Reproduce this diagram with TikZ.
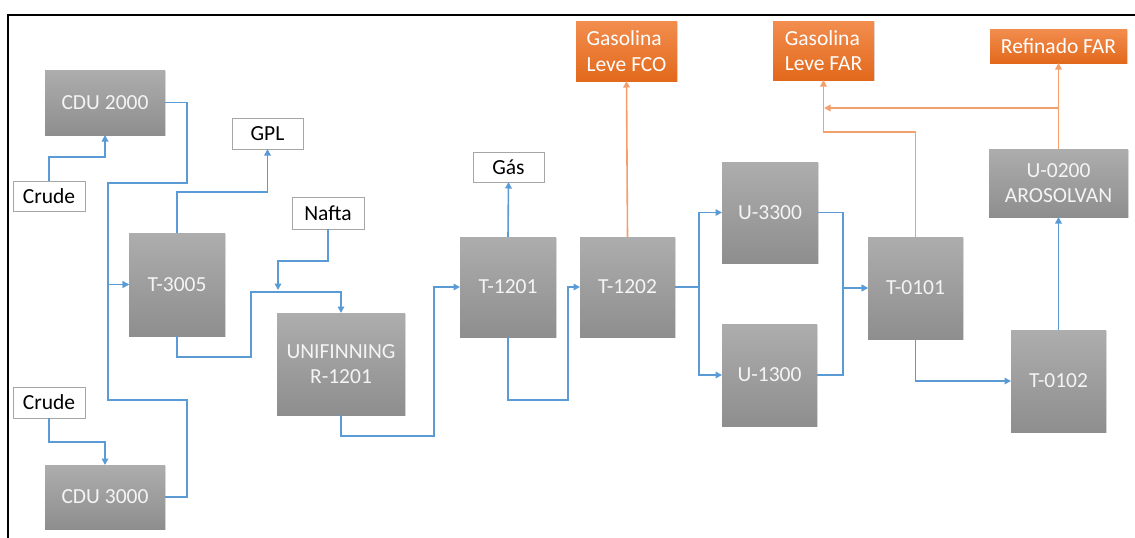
\documentclass[tikz,border=0pt]{standalone}
\usepackage{fontspec}
\setmainfont{Carlito}
\usetikzlibrary{arrows.meta,shadows}
\definecolor{lineblue}{HTML}{5B9BD5}
\definecolor{lineorange}{HTML}{F4A06C}
\definecolor{graytop}{HTML}{ADADAD}
\definecolor{graybot}{HTML}{8E8E8E}
\definecolor{orangetop}{HTML}{F28D4E}
\definecolor{orangebot}{HTML}{E2691C}
\definecolor{unittext}{HTML}{F4F4F4}
\definecolor{boxborder}{HTML}{A6A6A6}
\begin{document}
\begin{tikzpicture}[x=1pt,y=-1pt,
  base/.style={rectangle, inner sep=0pt, outer sep=0pt, align=center,
    font=\fontsize{21.5}{25.5}\selectfont},
  unit/.style={base, top color=graytop, bottom color=graybot, text=unittext,
    drop shadow={opacity=0.25,shadow xshift=1.2pt,shadow yshift=-1.2pt}},
  product/.style={base, top color=orangetop, bottom color=orangebot, text=white,
    drop shadow={opacity=0.25,shadow xshift=1.2pt,shadow yshift=-1.2pt}},
  feed/.style={base, draw=boxborder, line width=1pt, fill=white, text=black},
  flow/.style={draw=lineblue, line width=1.6pt, -{Triangle[length=6.5pt,width=6.5pt]}},
  oflow/.style={draw=lineorange, line width=1.6pt, -{Triangle[length=6.5pt,width=6.5pt]}}]
\useasboundingbox (0,0) rectangle (1135,538);
\fill[white] (0,0) rectangle (1135,538);
\draw[line width=2.2pt] (8,538) -- (8,15) -- (1135,15);

% nodes
\node[unit, minimum width=120pt, minimum height=65pt] (cdu2) at (105,102.5) {CDU 2000};
\node[unit, minimum width=120pt, minimum height=64pt] (cdu3) at (105,497) {CDU 3000};
\node[feed, minimum width=72pt, minimum height=30pt] (crude1) at (49,196) {Crude};
\node[feed, minimum width=72pt, minimum height=31pt] (crude2) at (49,402.5) {Crude};
\node[feed, minimum width=71pt, minimum height=31pt] (gpl) at (267.5,133.5) {GPL};
\node[feed, minimum width=72pt, minimum height=32pt] (nafta) at (328,213) {Nafta};
\node[unit, minimum width=96pt, minimum height=103pt] (t3005) at (177,284.5) {T-3005};
\node[unit, minimum width=128pt, minimum height=102pt] (unif) at (341,364) {UNIFINNING\\R-1201};
\node[unit, minimum width=96pt, minimum height=100pt] (t1201) at (508,287) {T-1201};
\node[unit, minimum width=95pt, minimum height=100pt] (t1202) at (627.5,287) {T-1202};
\node[feed, minimum width=71pt, minimum height=30pt] (gas) at (508.5,167) {Gás};
\node[product, minimum width=101pt, minimum height=60pt, align=left] (fco) at (626.5,51) {Gasolina\\Leve FCO};
\node[unit, minimum width=96pt, minimum height=101pt] (u3300) at (770,212.5) {U-3300};
\node[unit, minimum width=95pt, minimum height=102pt] (u1300) at (769.5,375) {U-1300};
\node[unit, minimum width=95pt, minimum height=102pt] (t0101) at (915.5,288) {T-0101};
\node[unit, minimum width=95pt, minimum height=102pt] (t0102) at (1058.5,381) {T-0102};
\node[unit, minimum width=139pt, minimum height=68pt] (u0200) at (1058.5,183) {U-0200\\AROSOLVAN};
\node[product, minimum width=137pt, minimum height=34pt] (ref) at (1058.5,46) {Refinado FAR};
\node[product, minimum width=101pt, minimum height=59pt, align=left] (far) at (823.5,50.5) {Gasolina\\Leve FAR};

% junction coordinates
\coordinate (naftain) at (278,290);
\coordinate (br) at (1058.5,108);
\coordinate (farin) at (824,108);

% blue connectors
\draw[flow] (crude1.north) -- ++(0,-24) -| (cdu2.south);
\draw[flow] (crude2.south) -- ++(0,24) -| (cdu3.north);
\draw[flow] (cdu2.east) -- ++(22,0) |- (108,183) |- (t3005.west);
\draw[flow] (cdu3.east) -- ++(22,0) |- (108,400) |- (t3005.west);
\draw[flow] (t3005.north) -- ++(0,-41) -| (gpl.south);
\draw[flow] (t3005.south) |- (251,357) -- (251,292) -| (unif.north);
\draw[flow] (nafta.south) -- ++(0,32) -| (naftain);
\draw[flow] (unif.south) |- (434,436) |- (t1201.west);
\draw[flow] (t1201.north) -- (gas.south);
\draw[flow] (t1201.south) |- (568,400) |- (t1202.west);
\draw[flow] (t1202.east) -- (699,287) |- (u3300.west);
\draw[flow] (t1202.east) -- (699,287) |- (u1300.west);
\draw[flow] (u3300.east) -- (843,212.5) |- (t0101.west);
\draw[flow] (u1300.east) -- (843,375) |- (t0101.west);
\draw[flow] (t0101.south) |- (t0102.west);
\draw[flow] (t0102.north) -- (u0200.south);

% orange connectors
\draw[oflow] (t1202.north) -- (fco.south);
\draw[oflow] (t0101.north) -- ++(0,-105) -| (far.south);
\draw[oflow] (u0200.north) -- (ref.south);
\draw[oflow] (br) -- (farin);
\end{tikzpicture}
\end{document}
